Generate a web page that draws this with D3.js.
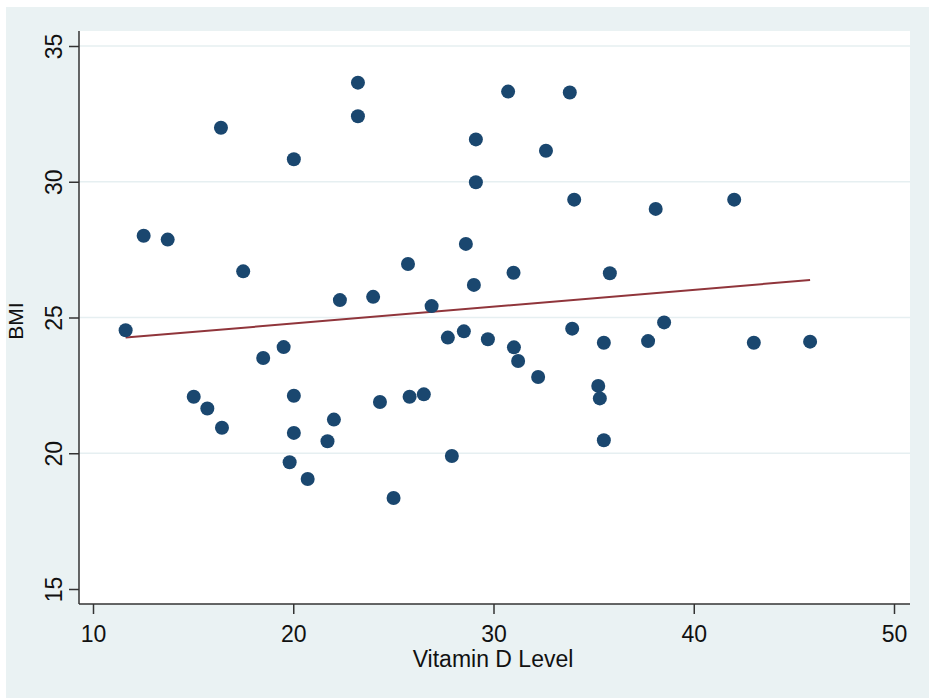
<!DOCTYPE html>
<html>
<head>
<meta charset="utf-8">
<script src="https://d3js.org/d3.v7.min.js"></script>
<style>
  body { margin: 0; background: #fff; }
  text { font-family: "Liberation Sans", Arial, sans-serif; fill: #111; }
</style>
</head>
<body>
  <div id="my_dataviz"></div>
  <script>
    // scatter of BMI against vitamin D level
    var vitD = [11.63, 12.53, 13.73, 15.03, 15.71, 16.39, 16.44, 17.5, 18.5, 19.52,
                19.82, 20.03, 20.03, 20.03, 20.72, 21.71, 22.03, 22.33, 23.23, 23.23,
                23.99, 24.33, 25.01, 25.73, 25.81, 26.52, 26.91, 27.72, 27.92, 28.52,
                28.62, 29.02, 29.12, 29.12, 29.72, 30.73, 31.0, 31.02, 31.23, 32.23,
                32.62, 33.81, 33.93, 34.03, 35.23, 35.31, 35.51, 35.51, 35.81, 37.72,
                38.1, 38.52, 42.02, 43.0, 45.81];
    var bmi = [24.53, 28.01, 27.87, 22.08, 21.65, 31.99, 20.94, 26.7, 23.51, 23.91,
               19.67, 30.83, 22.12, 20.75, 19.05, 20.44, 21.24, 25.64, 33.65, 32.41,
               25.76, 21.89, 18.35, 26.97, 22.08, 22.17, 25.42, 24.26, 19.9, 24.49,
               27.71, 26.2, 31.56, 29.98, 24.2, 33.32, 26.65, 23.9, 23.4, 22.81,
               31.14, 33.29, 24.59, 29.34, 22.48, 22.02, 24.07, 20.48, 26.63, 24.13,
               29.0, 24.82, 29.34, 24.07, 24.11];

    // linear fit end points
    var fitX = [11.63, 45.81];
    var fitY = [24.26, 26.38];

    var xTicks = [10, 20, 30, 40, 50];
    var yTicks = [15, 20, 25, 30, 35];
    var gridTicks = [20, 25, 30, 35];

    var width = 929, height = 698;
    var plot = {left: 79, right: 910, top: 31, bottom: 604};

    var svg = d3.select("#my_dataviz")
      .append("svg")
      .attr("width", width)
      .attr("height", height);

    // graph region
    svg.append("rect")
      .attr("x", 6).attr("y", 7)
      .attr("width", width - 6).attr("height", height - 7)
      .style("fill", "#eaf2f3");

    svg.append("rect")
      .attr("x", plot.left).attr("y", plot.top)
      .attr("width", plot.right - plot.left).attr("height", plot.bottom - plot.top)
      .style("fill", "#ffffff");

    var x = d3.scaleLinear().domain([10, 50]).range([93, 894]);
    var y = d3.scaleLinear().domain([15, 35]).range([589, 46]);

    svg.append("g")
      .selectAll("line")
      .data(gridTicks)
      .enter()
      .append("line")
      .attr("x1", plot.left).attr("x2", plot.right)
      .attr("y1", function(d) { return y(d); })
      .attr("y2", function(d) { return y(d); })
      .style("stroke", "#e6eff1")
      .style("stroke-width", 1.5);

    // fit line
    var line = d3.line()
      .x(function(d) { return x(d[0]); })
      .y(function(d) { return y(d[1]); });

    svg.append("path")
      .datum(d3.zip(fitX, fitY))
      .attr("d", line)
      .style("fill", "none")
      .style("stroke", "#90353b")
      .style("stroke-width", 2);

    svg.append("g")
      .selectAll("circle")
      .data(d3.zip(vitD, bmi))
      .enter()
      .append("circle")
      .attr("cx", function(d) { return x(d[0]); })
      .attr("cy", function(d) { return y(d[1]); })
      .attr("r", 7)
      .style("fill", "#1a476f");

    // axes
    var xAxis = svg.append("g")
      .attr("transform", "translate(0," + plot.bottom + ")")
      .call(d3.axisBottom(x).tickValues(xTicks).tickSize(10).tickFormat(d3.format("d")));
    xAxis.select(".domain").remove();
    xAxis.selectAll(".tick line").style("stroke", "#333").style("stroke-width", 1.5);
    xAxis.selectAll(".tick text")
      .attr("y", 38).attr("dy", null)
      .style("font-size", "23px")
      .style("fill", "#111");

    var yAxis = svg.append("g")
      .attr("transform", "translate(" + plot.left + ",0)")
      .call(d3.axisLeft(y).tickValues(yTicks).tickSize(10).tickFormat(d3.format("d")));
    yAxis.select(".domain").remove();
    yAxis.selectAll(".tick line").style("stroke", "#333").style("stroke-width", 1.5);
    yAxis.selectAll(".tick text")
      .attr("x", 0).attr("dy", null)
      .attr("transform", "translate(-17,0) rotate(-90)")
      .attr("text-anchor", "middle")
      .style("font-size", "23px")
      .style("fill", "#111");

    svg.append("line")
      .attr("x1", plot.left).attr("x2", plot.left)
      .attr("y1", plot.top).attr("y2", plot.bottom)
      .style("stroke", "#333").style("stroke-width", 1.5);
    svg.append("line")
      .attr("x1", plot.left).attr("x2", plot.right)
      .attr("y1", plot.bottom).attr("y2", plot.bottom)
      .style("stroke", "#333").style("stroke-width", 1.5);

    svg.append("text")
      .attr("x", 493).attr("y", 667)
      .attr("text-anchor", "middle")
      .style("font-size", "23px")
      .text("Vitamin D Level");

    svg.append("text")
      .attr("transform", "translate(23,321) rotate(-90)")
      .attr("text-anchor", "middle")
      .style("font-size", "21px")
      .text("BMI");
  </script>
</body>
</html>
